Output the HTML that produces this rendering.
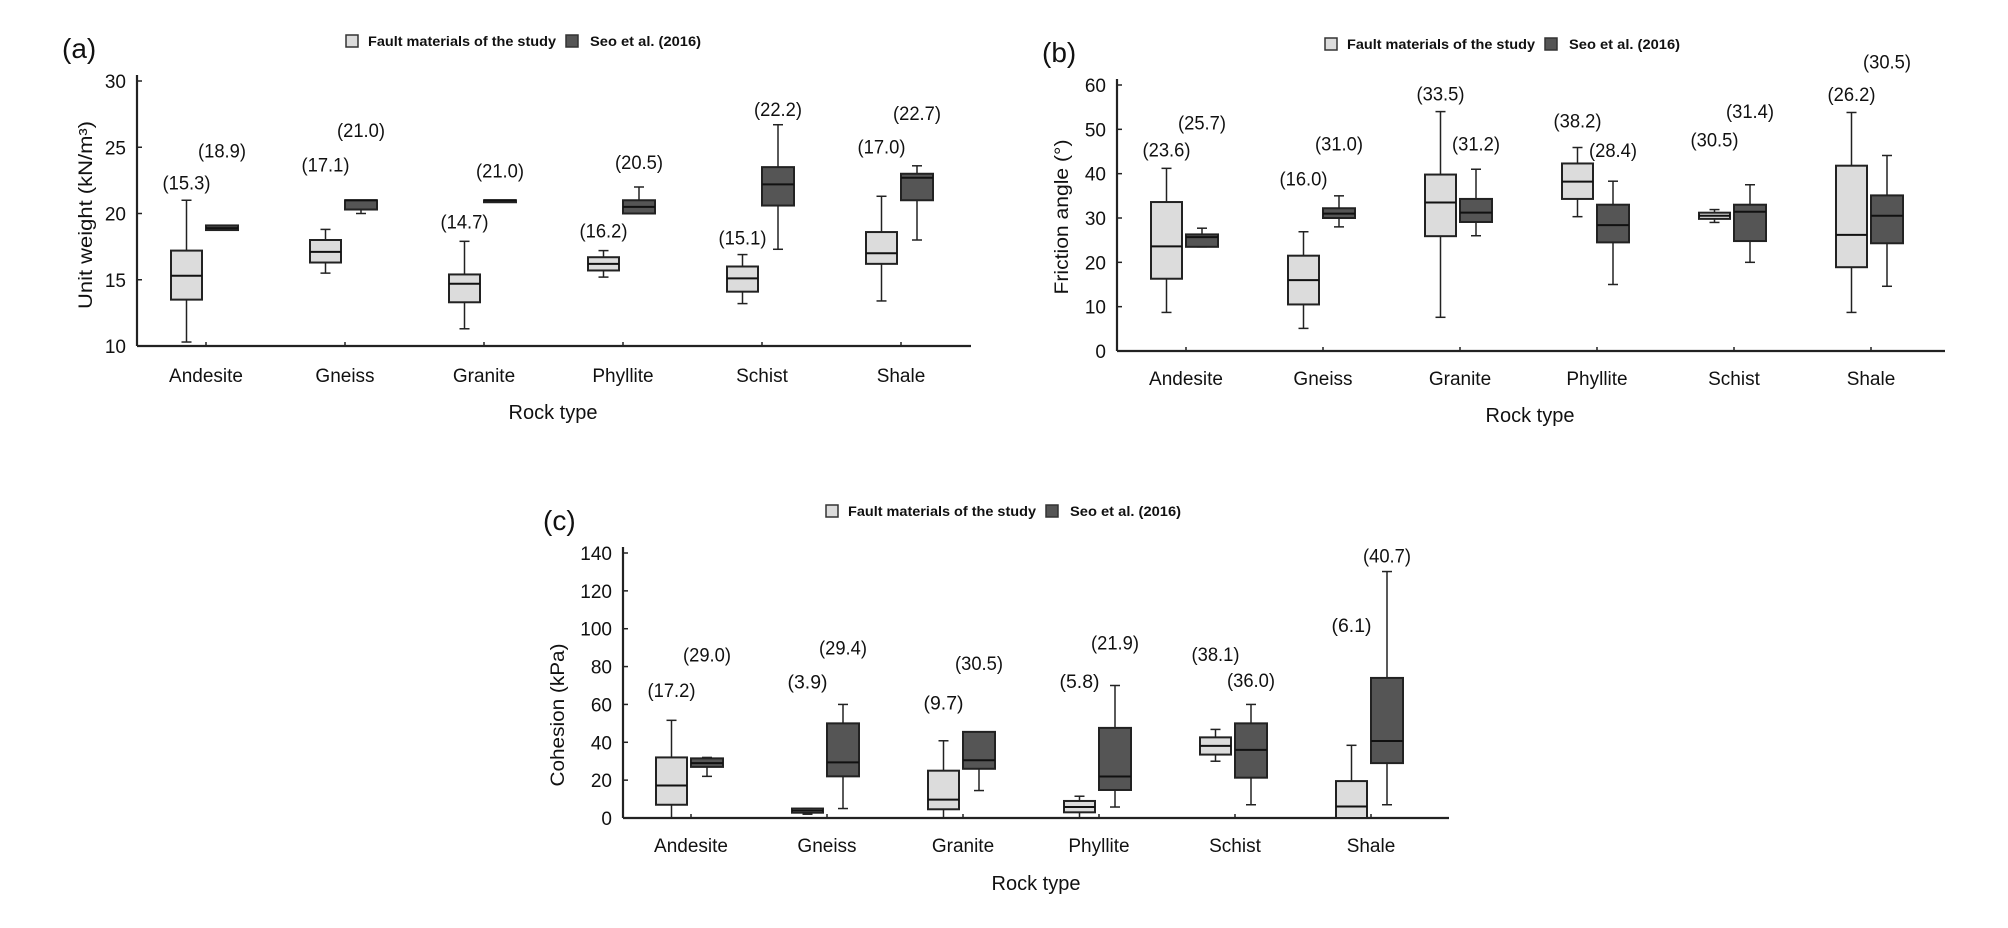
<!DOCTYPE html>
<html><head><meta charset="utf-8"><style>
html,body{margin:0;padding:0;background:#fff;}
svg{display:block;font-family:"Liberation Sans",sans-serif;}
</style></head><body>
<svg id="s" width="2008" height="928" viewBox="0 0 2008 928" xmlns="http://www.w3.org/2000/svg"></svg>
<script>
var S=document.getElementById('s'),NS='http://www.w3.org/2000/svg';
function el(t,a,txt){var e=document.createElementNS(NS,t);for(var k in a)e.setAttribute(k,a[k]);if(txt!==undefined)e.textContent=txt;S.appendChild(e);return e;}
var cats=["Andesite","Gneiss","Granite","Phyllite","Schist","Shale"];
function panel(p){
  var Y=function(v){return p.y0+(v-p.vmin)/(p.vmax-p.vmin)*(p.yTop-p.y0);};
  el('line',{x1:p.ax,y1:p.yTop-6,x2:p.ax,y2:p.y0,stroke:'#222','stroke-width':2.2});
  el('line',{x1:p.ax,y1:p.y0,x2:p.axEnd,y2:p.y0,stroke:'#222','stroke-width':2.2});
  p.yt.forEach(function(v){var y=Y(v);el('line',{x1:p.ax,y1:y,x2:p.ax+5,y2:y,stroke:'#222','stroke-width':1.5});
    el('text',{x:p.ax-11,y:y+7,'font-size':19,'text-anchor':'end',fill:'#111'},String(v));});
  cats.forEach(function(c,i){var t=p.t0+i*p.dt;
    el('line',{x1:t,y1:p.y0,x2:t,y2:p.y0-4,stroke:'#222','stroke-width':1.5});
    el('text',{x:t,y:p.lblY,'font-size':19,'text-anchor':'middle',fill:'#111'},c);
    [0,1].forEach(function(k){var d=p.data[i][k];var x1=k?t:t-35,x2=k?t+32:t-4,cx=(x1+x2)/2;
      if(d.w){el('line',{x1:cx,y1:Y(d.w[0]),x2:cx,y2:Y(d.w[1]),stroke:'#222','stroke-width':1.5});
        el('line',{x1:cx-5,y1:Y(d.w[0]),x2:cx+5,y2:Y(d.w[0]),stroke:'#222','stroke-width':1.5});
        el('line',{x1:cx-5,y1:Y(d.w[1]),x2:cx+5,y2:Y(d.w[1]),stroke:'#222','stroke-width':1.5});}
      var yb=Y(d.b[1]),yb2=Y(d.b[0]);
      el('rect',{x:x1,y:yb,width:x2-x1,height:Math.max(yb2-yb,2),fill:k?'#555':'#dcdcdc',stroke:'#222','stroke-width':2});
      el('line',{x1:x1,y1:Y(d.m),x2:x2,y2:Y(d.m),stroke:'#111','stroke-width':2});
      var s='('+d.m.toFixed(1)+')';
      el('text',{x:cx,y:Y(d.l)+7,'font-size':19,'text-anchor':'middle',fill:'#111',textLength:s.length*8,lengthAdjust:'spacingAndGlyphs'},s);
    });
  });
  el('text',{x:p.rtX,y:p.rtY,'font-size':20,'text-anchor':'middle',fill:'#111'},'Rock type');
  el('text',{x:0,y:0,'font-size':19,'text-anchor':'middle',fill:'#111',textLength:p.ylLen,lengthAdjust:'spacingAndGlyphs',transform:'translate('+p.ylX+','+p.ylY+') rotate(-90)'},p.ylab);
  el('text',{x:p.pl[0],y:p.pl[1],'font-size':28,fill:'#111'},p.tag);
  var L=p.leg;
  el('rect',{x:L[0],y:L[1]-6,width:12,height:12,fill:'#dcdcdc',stroke:'#333','stroke-width':1.5});
  el('text',{x:L[0]+22,y:L[1]+5,'font-size':14,'font-weight':'bold',fill:'#111',textLength:188,lengthAdjust:'spacingAndGlyphs'},'Fault materials of the study');
  el('rect',{x:L[0]+220,y:L[1]-6,width:12,height:12,fill:'#555',stroke:'#333','stroke-width':1.5});
  el('text',{x:L[0]+244,y:L[1]+5,'font-size':14,'font-weight':'bold',fill:'#111',textLength:111,lengthAdjust:'spacingAndGlyphs'},'Seo et al. (2016)');
}
function B(w0,w1,b0,b1,m,l){return {w:w0===null?null:[w0,w1],b:[b0,b1],m:m,l:l};}
panel({ax:137,axEnd:971,y0:346,yTop:81,vmin:10,vmax:30,yt:[10,15,20,25,30],t0:206,dt:139,lblY:382,rtX:553,rtY:419,
 ylab:'Unit weight (kN/m³)',ylX:92,ylY:215,ylLen:188,pl:[62,58],tag:'(a)',leg:[346,41],
 data:[[B(10.3,21.0,13.5,17.2,15.3,22.35),B(null,0,18.75,19.1,18.9,24.75)],
  [B(15.5,18.8,16.3,18.0,17.1,23.7),B(20.0,21.0,20.3,21.0,21.0,26.3)],
  [B(11.3,17.9,13.3,15.4,14.7,19.4),B(null,0,21.0,21.0,21.0,23.25)],
  [B(15.2,17.2,15.7,16.7,16.2,18.7),B(20.0,22.0,20.0,21.0,20.5,23.9)],
  [B(13.2,16.9,14.1,16.0,15.1,18.2),B(17.3,26.7,20.6,23.5,22.2,27.9)],
  [B(13.4,21.3,16.2,18.6,17.0,25.05),B(18.0,23.6,21.0,23.0,22.7,27.6)]]});
panel({ax:1117,axEnd:1945,y0:351,yTop:85,vmin:0,vmax:60,yt:[0,10,20,30,40,50,60],t0:1186,dt:137,lblY:385,rtX:1530,rtY:422,
 ylab:'Friction angle (°)',ylX:1068,ylY:217,ylLen:155,pl:[1042,62],tag:'(b)',leg:[1325,44],
 data:[[B(8.7,41.2,16.3,33.6,23.6,45.5),B(23.5,27.7,23.5,26.3,25.7,51.5)],
  [B(5.1,26.9,10.5,21.5,16.0,38.9),B(28,35,30,32.2,31.0,46.8)],
  [B(7.6,54,25.9,39.8,33.5,58.1),B(26,41,29.1,34.3,31.2,46.8)],
  [B(30.3,45.9,34.3,42.3,38.2,52),B(15,38.3,24.5,33,28.4,45.3)],
  [B(29,31.9,29.8,31.2,30.5,47.7),B(20,37.5,24.8,33,31.4,54.1)],
  [B(8.7,53.8,18.9,41.8,26.2,58),B(14.6,44.1,24.3,35.1,30.5,65.3)]]});
panel({ax:623,axEnd:1449,y0:818,yTop:553,vmin:0,vmax:140,yt:[0,20,40,60,80,100,120,140],t0:691,dt:136,lblY:852,rtX:1036,rtY:890,
 ylab:'Cohesion (kPa)',ylX:564,ylY:715,ylLen:143,pl:[543,530],tag:'(c)',leg:[826,511],
 data:[[B(0,51.6,7,32,17.2,67.6),B(22,32,27,31.5,29.0,86.4)],
  [B(2,5,2.8,5,3.9,72),B(5,60,22,50,29.4,90)],
  [B(0,40.8,4.6,25,9.7,61),B(14.5,45.5,26,45.5,30.5,82)],
  [B(0,11.5,3,9,5.8,72.4),B(5.8,70,14.8,47.6,21.9,92.7)],
  [B(30,46.8,33.5,42.6,38.1,86.6),B(7,60,21.3,50,36.0,73)],
  [B(0,38.4,0,19.5,6.1,101.9),B(7,130.2,29,74,40.7,138.8)]]});
</script>
</body></html>
